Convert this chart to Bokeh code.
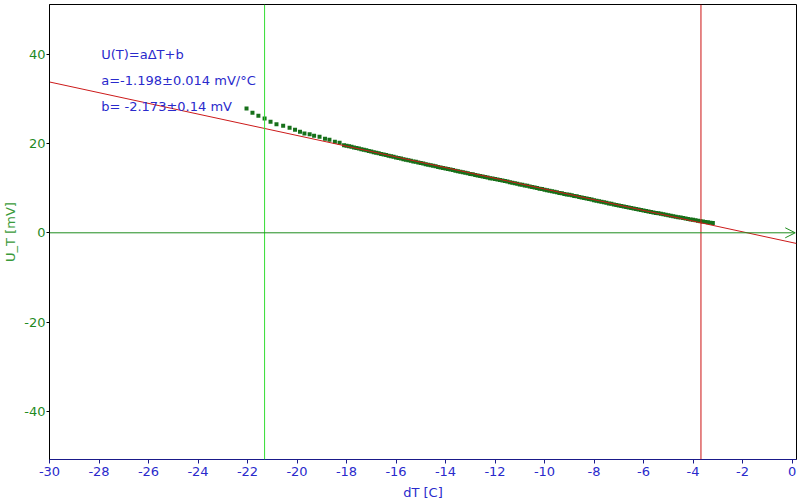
from bokeh.plotting import figure
from bokeh.models import Range1d, FixedTicker, Span, Arrow, OpenHead, ColumnDataSource
from bokeh.core.properties import value
from bokeh.embed import file_html
from bokeh.resources import INLINE

# ---- data ----
dT = [-22.04, -21.80, -21.56, -21.31, -21.07, -20.83, -20.56, -20.30, -20.08, -19.88,
      -19.70, -19.49, -19.31, -19.09, -18.87, -18.69, -18.47, -18.28,
      -18.1, -18.0, -17.9, -17.8, -17.7, -17.6, -17.5, -17.4, -17.3, -17.2, -17.1,
      -17.0, -16.9, -16.8, -16.7, -16.6, -16.5, -16.4, -16.3, -16.2, -16.1,
      -16.0, -15.9, -15.8, -15.7, -15.6, -15.5, -15.4, -15.3, -15.2, -15.1,
      -15.0, -14.9, -14.8, -14.7, -14.6, -14.5, -14.4, -14.3, -14.2, -14.1,
      -14.0, -13.9, -13.8, -13.7, -13.6, -13.5, -13.4, -13.3, -13.2, -13.1,
      -13.0, -12.9, -12.8, -12.7, -12.6, -12.5, -12.4, -12.3, -12.2, -12.1,
      -12.0, -11.9, -11.8, -11.7, -11.6, -11.5, -11.4, -11.3, -11.2, -11.1,
      -11.0, -10.9, -10.8, -10.7, -10.6, -10.5, -10.4, -10.3, -10.2, -10.1,
      -10.0, -9.9, -9.8, -9.7, -9.6, -9.5, -9.4, -9.3, -9.2, -9.1,
      -9.0, -8.9, -8.8, -8.7, -8.6, -8.5, -8.4, -8.3, -8.2, -8.1,
      -8.0, -7.9, -7.8, -7.7, -7.6, -7.5, -7.4, -7.3, -7.2, -7.1,
      -7.0, -6.9, -6.8, -6.7, -6.6, -6.5, -6.4, -6.3, -6.2, -6.1,
      -6.0, -5.9, -5.8, -5.7, -5.6, -5.5, -5.4, -5.3, -5.2, -5.1,
      -5.0, -4.9, -4.8, -4.7, -4.6, -4.5, -4.4, -4.3, -4.2, -4.1,
      -4.0, -3.9, -3.8, -3.7, -3.6, -3.5, -3.4, -3.3, -3.2]
U_T = [27.83, 26.86, 26.19, 25.59, 24.85, 24.31, 23.95, 23.51, 23.06, 22.61,
       22.23, 22.07, 21.72, 21.49, 21.04, 20.82, 20.37, 20.15,
       19.62, 19.49, 19.36, 19.24, 19.10, 18.97, 18.85, 18.72, 18.60, 18.47, 18.34,
       18.20, 18.06, 17.93, 17.80, 17.66, 17.53, 17.40, 17.27, 17.15, 17.02,
       16.86, 16.72, 16.62, 16.47, 16.38, 16.22, 16.13, 15.99, 15.88, 15.75,
       15.60, 15.49, 15.35, 15.24, 15.11, 14.99, 14.88, 14.74, 14.64, 14.51,
       14.39, 14.28, 14.15, 14.05, 13.91, 13.79, 13.69, 13.55, 13.45, 13.31,
       13.19, 13.09, 12.95, 12.85, 12.71, 12.61, 12.47, 12.37, 12.23, 12.13,
       12.04, 11.94, 11.80, 11.70, 11.57, 11.46, 11.33, 11.22, 11.09, 10.98,
       10.84, 10.75, 10.60, 10.51, 10.37, 10.27, 10.13, 10.03, 9.89, 9.79,
       9.65, 9.55, 9.41, 9.31, 9.17, 9.07, 8.93, 8.83, 8.69, 8.59,
       8.50, 8.40, 8.26, 8.16, 8.02, 7.92, 7.78, 7.68, 7.54, 7.44,
       7.30, 7.20, 7.06, 6.96, 6.82, 6.72, 6.58, 6.48, 6.34, 6.24,
       6.10, 6.00, 5.87, 5.77, 5.65, 5.55, 5.43, 5.33, 5.22, 5.12,
       5.00, 4.90, 4.79, 4.68, 4.57, 4.46, 4.35, 4.24, 4.13, 4.02,
       3.92, 3.82, 3.71, 3.61, 3.50, 3.40, 3.29, 3.19, 3.08, 2.98,
       2.90, 2.80, 2.70, 2.61, 2.52, 2.43, 2.34, 2.25, 2.17]

fit_a = -1.198
fit_b = -2.173
fit_x = [-30.0, 0.18]
fit_y = [fit_a * x + fit_b for x in fit_x]

cursor_green = -21.31
cursor_red = -3.68

x_ticks = [-30, -28, -26, -24, -22, -20, -18, -16, -14, -12, -10, -8, -6, -4, -2, 0]
x_tick_labels = ["-30", "-28", "-26", "-24", "-22", "-20", "-18", "-16", "-14", "-12",
                 "-10", "-8", "-6", "-4", "-2", "0"]
y_ticks = [-40, -20, 0, 20, 40]
y_tick_labels = ["-40", "-20", "0", "20", "40"]

note_lines = ["U(T)=a\u0394T+b", "a=-1.198\u00b10.014 mV/\u00b0C", "b= -2.173\u00b10.14 mV"]
note_x = [-27.91, -27.91, -27.91]
note_y = [39.9, 34.1, 28.3]

# ---- figure ----
p = figure(width=800, height=504, output_backend="svg", toolbar_location=None,
           x_range=Range1d(-30.0, 0.18), y_range=Range1d(-50.75, 51.11),
           min_border_left=49, min_border_right=4, min_border_top=4, min_border_bottom=45,
           x_axis_label="dT [C]", y_axis_label="U_T [mV]")
p.background_fill_color = "white"
p.border_fill_color = "white"
p.outline_line_color = "black"
p.outline_line_width = 1
p.xgrid.visible = False
p.ygrid.visible = False

BLUE = "#2a2acc"
GREEN_TXT = "#1f8a1f"

xa = p.xaxis[0]
xa.ticker = FixedTicker(ticks=x_ticks)
xa.major_label_overrides = {t: s for t, s in zip(x_ticks, x_tick_labels)}
xa.axis_line_color = "#1a1a8a"
xa.major_tick_line_color = "#1a1a8a"
xa.minor_tick_line_color = None
xa.major_tick_out = 4
xa.major_tick_in = 0
xa.major_label_text_color = BLUE
xa.major_label_text_font = "DejaVu Sans"
xa.major_label_text_font_size = "13px"
xa.major_label_standoff = 3
xa.axis_label_text_color = BLUE
xa.axis_label_text_font = "DejaVu Sans"
xa.axis_label_text_font_size = "13px"
xa.axis_label_text_font_style = "normal"
xa.axis_label_standoff = 6

ya = p.yaxis[0]
ya.ticker = FixedTicker(ticks=y_ticks)
ya.major_label_overrides = {t: s for t, s in zip(y_ticks, y_tick_labels)}
ya.axis_line_color = "black"
ya.major_tick_line_color = "black"
ya.minor_tick_line_color = None
ya.major_tick_out = 3
ya.major_tick_in = 0
ya.major_label_text_color = GREEN_TXT
ya.major_label_text_font = "DejaVu Sans"
ya.major_label_text_font_size = "13px"
ya.major_label_standoff = 1
ya.axis_label_text_color = "#3a9a3a"
ya.axis_label_text_font = "DejaVu Sans"
ya.axis_label_text_font_size = "13px"
ya.axis_label_text_font_style = "normal"
ya.axis_label_standoff = 3

# cursors
p.add_layout(Span(location=cursor_green, dimension="height", line_color="#33dd33", line_width=1))
p.add_layout(Span(location=cursor_red, dimension="height", line_color="#cc1111", line_width=1))

# zero axis with arrow
p.add_layout(Arrow(x_start=-30.0, y_start=0, x_end=0.13, y_end=0,
                   line_color="#1e8c1e", line_width=1,
                   end=OpenHead(size=10, line_color="#1e8c1e", line_width=1)))

# data points
src = ColumnDataSource(dict(x=dT, y=U_T))
p.scatter("x", "y", source=src, marker="square", size=4,
          fill_color="#17701a", line_color=None)

# fit line
p.line(fit_x, fit_y, line_color="#cc1a1a", line_width=1)

# annotation text
p.text(x=note_x, y=note_y, text=note_lines, text_color=BLUE,
       text_font=value("DejaVu Sans"), text_font_size="13px",
       text_baseline="middle", text_align="left")

open("out.html", "w").write(file_html(p, INLINE))
